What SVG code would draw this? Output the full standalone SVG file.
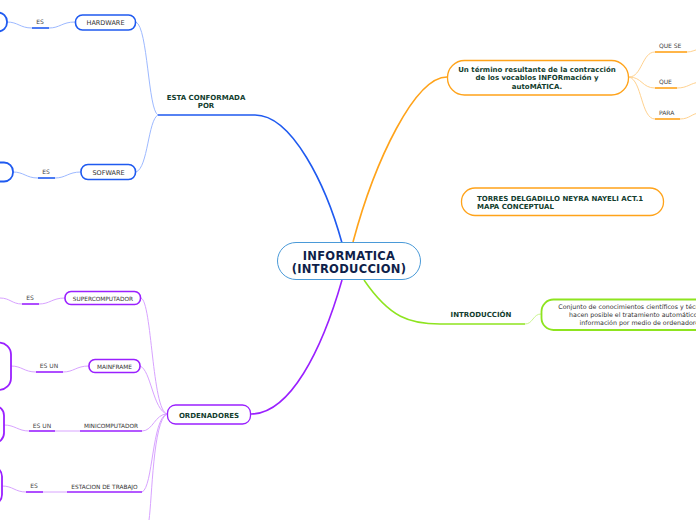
<svg xmlns="http://www.w3.org/2000/svg" width="696" height="520" viewBox="0 0 696 520">
<style>
text{font-family:"DejaVu Sans","Liberation Sans",sans-serif}
.c{text-anchor:middle}
.lbl{font-size:6px;fill:#444}
.sub{font-size:6.5px;fill:#333}
.bd{font-weight:bold;fill:#123d2e;font-size:7px}
.n{fill:#fff}
.bl{fill:none;stroke:#9db9ff;stroke-width:1}
.blu{fill:none;stroke:#1f5af0;stroke-width:1.6}
.pl{fill:none;stroke:#d8a3ff;stroke-width:1}
.pu{fill:none;stroke:#9a20ff;stroke-width:1.6}
.ol{fill:none;stroke:#ffd28f;stroke-width:1}
.ou{fill:none;stroke:#ffa31a;stroke-width:1.6}
.gl{fill:none;stroke:#c9f58e;stroke-width:1}
.gu{fill:none;stroke:#8ee41f;stroke-width:1.5}
</style>
<rect width="696" height="520" fill="#fff"/>
<g id="connectors">
<path class="blu" d="M342,243 C326,185 292,115 255,115 H158"/>
<path class="bl" d="M158,115 C148,110 148,28 136,22"/>
<path class="bl" d="M158,115 C148,120 148,168 136,172"/>
<path class="bl" d="M75,22 C62,22 60,28 49,28"/>
<path class="blu" d="M32,28 H49"/>
<path class="bl" d="M32,28 C20,28 18,22 7,22"/>
<path class="bl" d="M81,172 C68,172 66,178 55,178"/>
<path class="blu" d="M38,178 H55"/>
<path class="bl" d="M38,178 C26,178 24,172 13,172"/>
<path class="pu" d="M342,280 C322,350 290,414 251,414"/>
<path class="pl" d="M167,414 C152,410 152,302 141,298"/>
<path class="pl" d="M167,414 C153,410 151,370 140,366"/>
<path class="pl" d="M167,414 C155,414 153,431 142,431"/>
<path class="pl" d="M167,414 C152,418 153,488 142,492"/>
<path class="pl" d="M167,414 C153,420 152,500 149,520"/>
<path class="pl" d="M65,298 C52,298 50,304 39,304"/>
<path class="pu" d="M22,304 H39"/>
<path class="pl" d="M22,304 C12,304 10,298 0,298"/>
<path class="pl" d="M89,366 C76,366 74,372 63,372"/>
<path class="pu" d="M36,372 H63"/>
<path class="pl" d="M36,372 C24,372 22,366 11,366"/>
<path class="pu" d="M80,431 H142"/>
<path class="pl" d="M55,431 H80"/>
<path class="pu" d="M29,431 H55"/>
<path class="pl" d="M29,431 C18,431 15,425 4,425"/>
<path class="pu" d="M67,492 H142"/>
<path class="pl" d="M43,492 H67"/>
<path class="pu" d="M26,492 H43"/>
<path class="pl" d="M26,492 C15,492 13,486 2,486"/>
<path class="ou" d="M353,242 C375,160 415,77 447,77"/>
<path class="ol" d="M629,77 C642,77 642,52 655,52"/>
<path class="ou" d="M655,52 H687"/>
<path class="ol" d="M687,52 C692,52 694,50 700,49"/>
<path class="ol" d="M629,77 C642,77 642,88 655,88"/>
<path class="ou" d="M655,88 H677"/>
<path class="ol" d="M677,88 C688,88 690,83 700,82"/>
<path class="ol" d="M629,77 C642,80 641,119 655,119"/>
<path class="ou" d="M655,119 H680"/>
<path class="ol" d="M680,119 C690,119 692,113 700,113"/>
<path class="gu" d="M364,280 C390,318 410,324 440,324 H525"/>
<path class="gl" d="M525,324 C533,324 533,314 541,314"/>
</g>
<g id="center">
<rect class="n" x="277.5" y="242.5" width="143" height="37" rx="18.5" stroke="#4a9ad8" stroke-width="1"/>
<text class="c" x="349" y="260" font-size="11.5" font-weight="bold" fill="#0f1f4a" letter-spacing="0.3">INFORMATICA</text>
<text class="c" x="349" y="273" font-size="11.5" font-weight="bold" fill="#0f1f4a" letter-spacing="0.3">(INTRODUCCION)</text>
</g>
<g id="esta-conformada">
<text class="c bd" x="206" y="100">ESTA CONFORMADA</text>
<text class="c bd" x="206" y="108">POR</text>
</g>
<g id="hardware">
<rect class="n" x="75.5" y="15" width="60" height="15" rx="7" stroke="#1f5af0" stroke-width="1.6"/>
<text class="c sub" x="105.5" y="25">HARDWARE</text>
</g>
<g id="hw-es"><text class="c lbl" x="40" y="24">ES</text></g>
<g id="hw-def"><rect class="n" x="-20" y="12.5" width="27" height="19" rx="9" stroke="#1f5af0" stroke-width="1.8"/></g>
<g id="sofware">
<rect class="n" x="81" y="164.5" width="54.5" height="15" rx="7" stroke="#1f5af0" stroke-width="1.6"/>
<text class="c sub" x="108.5" y="175">SOFWARE</text>
</g>
<g id="sw-es"><text class="c lbl" x="46" y="174">ES</text></g>
<g id="sw-def"><rect class="n" x="-20" y="162.5" width="33" height="19" rx="9" stroke="#1f5af0" stroke-width="1.8"/></g>
<g id="ordenadores">
<rect class="n" x="167.5" y="405" width="83" height="19" rx="8" stroke="#9a20ff" stroke-width="1.3"/>
<text class="c bd" x="209" y="417.5" font-size="7.5">ORDENADORES</text>
</g>
<g id="supercomputador">
<rect class="n" x="65" y="291.5" width="75.5" height="13" rx="6" stroke="#9a20ff" stroke-width="1.6"/>
<text class="c" x="103" y="300.5" font-size="5.8" fill="#333">SUPERCOMPUTADOR</text>
</g>
<g id="sc-es"><text class="c lbl" x="30" y="300">ES</text></g>
<g id="mainframe">
<rect class="n" x="89" y="359.5" width="51" height="13" rx="6" stroke="#9a20ff" stroke-width="1.6"/>
<text class="c" x="114.5" y="368.5" font-size="5.8" fill="#333">MAINFRAME</text>
</g>
<g id="mf-esun"><text class="c lbl" x="49" y="368">ES UN</text></g>
<g id="mf-def"><rect class="n" x="-20" y="342.5" width="31" height="47.5" rx="12" stroke="#9a20ff" stroke-width="1.8"/></g>
<g id="minicomputador"><text class="c" x="111" y="427.5" font-size="5.8" fill="#333">MINICOMPUTADOR</text></g>
<g id="mc-esun"><text class="c lbl" x="42" y="427.5">ES UN</text></g>
<g id="mc-def"><rect class="n" x="-20" y="405.5" width="24" height="37.5" rx="10" stroke="#9a20ff" stroke-width="1.8"/></g>
<g id="estacion"><text class="c" x="104.5" y="488.5" font-size="5.8" fill="#333">ESTACION DE TRABAJO</text></g>
<g id="et-es"><text class="c lbl" x="34" y="488">ES</text></g>
<g id="et-def"><rect class="n" x="-20" y="466.5" width="22" height="38" rx="10" stroke="#9a20ff" stroke-width="1.8"/></g>
<g id="termino">
<rect class="n" x="447.5" y="60.5" width="181" height="34.5" rx="17" stroke="#ffa31a" stroke-width="1.3"/>
<text class="c bd" x="537" y="71.5" font-size="6.1">Un término resultante de la contracción</text>
<text class="c bd" x="537" y="80" font-size="6.1">de los vocablos INFORmación y</text>
<text class="c bd" x="537" y="88.5" font-size="6.1">autoMÁTICA.</text>
</g>
<g id="que-se"><text class="lbl" x="659" y="48">QUE SE</text></g>
<g id="que"><text class="lbl" x="659" y="84">QUE</text></g>
<g id="para"><text class="lbl" x="659" y="115">PARA</text></g>
<g id="torres">
<rect class="n" x="461.5" y="188" width="202" height="27.5" rx="13.5" stroke="#ffa31a" stroke-width="1.3"/>
<text class="bd" x="477" y="200.5" font-size="6.6">TORRES DELGADILLO NEYRA NAYELI ACT.1</text>
<text class="bd" x="477" y="209" font-size="6.6">MAPA CONCEPTUAL</text>
</g>
<g id="introduccion"><text class="c bd" x="481" y="317">INTRODUCCIÓN</text></g>
<g id="conjunto">
<rect class="n" x="541.5" y="299.5" width="200" height="30.5" rx="12" stroke="#8ee41f" stroke-width="1.8"/>
<text class="c" x="642" y="309" font-size="6.3" fill="#333">Conjunto de conocimientos científicos y técnicas que</text>
<text class="c" x="642" y="317" font-size="6.3" fill="#333">hacen posible el tratamiento automático de la</text>
<text class="c" x="642" y="325" font-size="6.3" fill="#333">información por medio de ordenadores.</text>
</g>
</svg>
